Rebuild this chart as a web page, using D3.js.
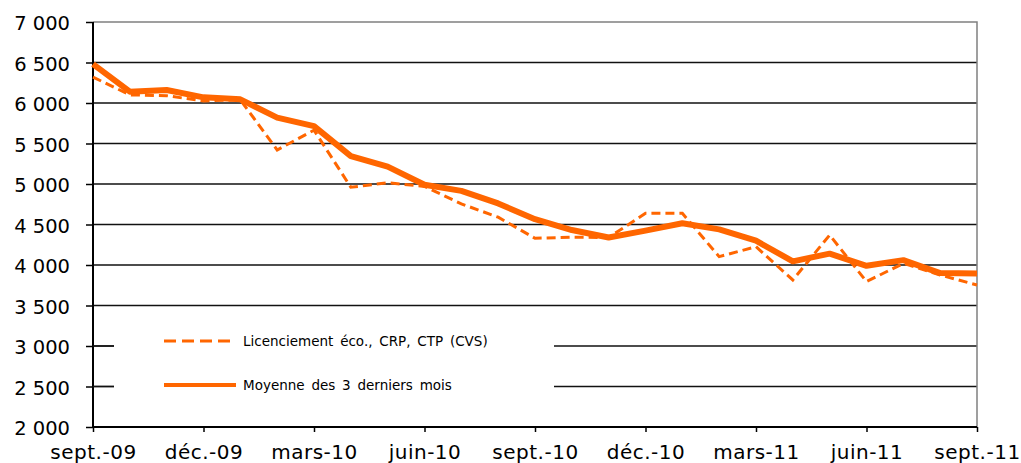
<!DOCTYPE html>
<html>
<head>
<meta charset="utf-8">
<script src="https://cdn.jsdelivr.net/npm/d3@7"></script>
<style>
  body { margin: 0; background: #fff; }
  svg { display: block; }
  .axis text { font-family: "DejaVu Sans", Verdana, sans-serif; fill: #000; }
  .legend text { font-family: "DejaVu Sans", Verdana, sans-serif; font-size: 13.5px; fill: #000; }
</style>
</head>
<body>
<script>
// monthly data, sept. 2009 -> sept. 2011
var months = ["sept.-09","oct.-09","nov.-09","déc.-09","janv.-10","févr.-10","mars-10","avr.-10","mai-10","juin-10",
  "juil.-10","août-10","sept.-10","oct.-10","nov.-10","déc.-10","janv.-11","févr.-11","mars-11","avr.-11",
  "mai-11","juin-11","juil.-11","août-11","sept.-11"];

var licenciement = [6320, 6100, 6090, 6025, 6040, 5420, 5665, 4960, 5015, 4970,
  4755, 4590, 4330, 4342, 4340, 4638, 4638, 4103, 4226, 3815,
  4370, 3795, 4020, 3877, 3753];

var moyenne = [6480, 6140, 6160, 6070, 6045, 5820, 5715, 5345, 5215, 4990,
  4915, 4760, 4565, 4432, 4340, 4425, 4515, 4440, 4300, 4045,
  4140, 3990, 4060, 3900, 3895];

var yTicks = [2000, 2500, 3000, 3500, 4000, 4500, 5000, 5500, 6000, 6500, 7000];
var seriesNames = ["Licenciement éco., CRP, CTP (CVS)", "Moyenne des 3 derniers mois"];

var width = 1021, height = 463;
var pLeft = 93, pRight = 977, pTop = 22, pBottom = 427;
var orange = "#ff6600";

var svg = d3.select("body").append("svg")
  .attr("width", width)
  .attr("height", height);

var x = d3.scalePoint().domain(months).range([pLeft, pRight]);
var y = d3.scaleLinear().domain([2000, 7000]).range([pBottom, pTop]);

var fmt = function(d) { return d3.format(",")(d).replace(",", " "); };

// gridlines
svg.append("g").selectAll("line")
  .data(yTicks.filter(function(d) { return d > 2000 && d < 7000; }))
  .enter().append("line")
  .attr("x1", pLeft).attr("x2", pRight)
  .attr("y1", function(d) { return y(d); })
  .attr("y2", function(d) { return y(d); })
  .attr("stroke", "#111")
  .attr("stroke-width", 1.4);

// plot border top / right (grey)
svg.append("path")
  .attr("d", "M" + pLeft + "," + y(7000) + "H" + pRight + "V" + pBottom)
  .attr("fill", "none")
  .attr("stroke", "#808080")
  .attr("stroke-width", 1.5);

// legend box hides part of the grid
svg.append("rect")
  .attr("x", 114).attr("y", 316)
  .attr("width", 440).attr("height", 92)
  .attr("fill", "#fff");

// y axis
var yAxis = svg.append("g")
  .attr("class", "axis")
  .attr("transform", "translate(" + pLeft + ",0)")
  .call(d3.axisLeft(y).tickValues(yTicks).tickFormat(fmt).tickSize(7).tickPadding(16));
yAxis.select(".domain").remove();
yAxis.selectAll("line").attr("stroke", "#000").attr("stroke-width", 1.5);
yAxis.selectAll("text").attr("font-size", "19.5px").attr("dy", "0.4em");

// x axis
var xAxis = svg.append("g")
  .attr("class", "axis")
  .attr("transform", "translate(0," + pBottom + ")")
  .call(d3.axisBottom(x)
    .tickValues(months.filter(function(d, i) { return i % 3 === 0; }))
    .tickSize(5).tickPadding(13));
xAxis.select(".domain").remove();
xAxis.selectAll("line").attr("stroke", "#000").attr("stroke-width", 1.5);
xAxis.selectAll("text").attr("font-size", "20px").attr("letter-spacing", "0.5px");

// axis lines
svg.append("line")
  .attr("x1", pLeft).attr("x2", pLeft).attr("y1", pTop).attr("y2", pBottom)
  .attr("stroke", "#000").attr("stroke-width", 2);
svg.append("line")
  .attr("x1", pLeft).attr("x2", pRight).attr("y1", pBottom).attr("y2", pBottom)
  .attr("stroke", "#000").attr("stroke-width", 2);

var line = d3.line()
  .x(function(d, i) { return x(months[i]); })
  .y(function(d) { return y(d); });

svg.append("path")
  .datum(licenciement)
  .attr("d", line)
  .attr("fill", "none")
  .attr("stroke", orange)
  .attr("stroke-width", 3)
  .attr("stroke-dasharray", "9,5");

svg.append("path")
  .datum(moyenne)
  .attr("d", line)
  .attr("fill", "none")
  .attr("stroke", orange)
  .attr("stroke-width", 6)
  .attr("stroke-linejoin", "round");

// legend
var legend = svg.append("g").attr("class", "legend");
var legY = [341, 385];
legend.append("line")
  .attr("x1", 164).attr("x2", 236).attr("y1", legY[0]).attr("y2", legY[0])
  .attr("stroke", orange).attr("stroke-width", 3).attr("stroke-dasharray", "12,6");
legend.append("line")
  .attr("x1", 164).attr("x2", 236).attr("y1", legY[1]).attr("y2", legY[1])
  .attr("stroke", orange).attr("stroke-width", 4);
legend.selectAll("text")
  .data(seriesNames)
  .enter().append("text")
  .attr("x", 243)
  .attr("y", function(d, i) { return legY[i]; })
  .attr("dy", "0.35em")
  .attr("word-spacing", "2.5px")
  .text(function(d) { return d; });

// short pieces of the grid left of the legend
svg.selectAll(".gridcut")
  .data([3000, 2500])
  .enter().append("line")
  .attr("x1", pLeft).attr("x2", 114)
  .attr("y1", function(d) { return y(d); })
  .attr("y2", function(d) { return y(d); })
  .attr("stroke", "#111").attr("stroke-width", 1.4);
</script>
</body>
</html>
